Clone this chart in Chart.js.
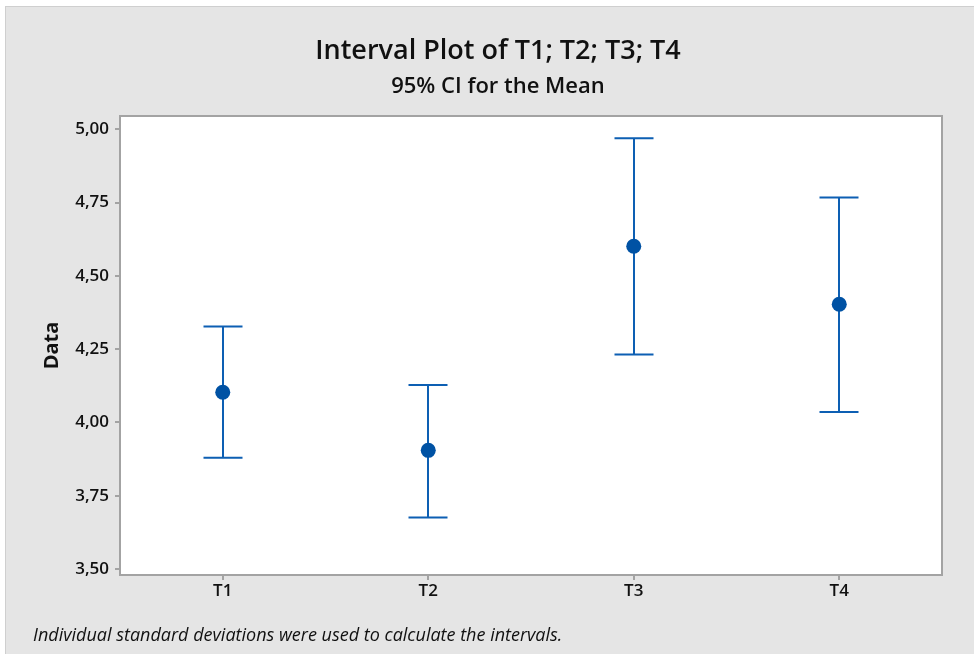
<!DOCTYPE html>
<html>
<head>
<meta charset="utf-8">
<title>Interval Plot of T1; T2; T3; T4</title>
<script src="https://cdn.jsdelivr.net/npm/chart.js@4/dist/chart.umd.min.js"></script>
<style>
  html, body { margin: 0; padding: 0; background: #ffffff; }
  #wrap { position: relative; width: 974px; height: 654px; overflow: hidden; }
  .txt {
    position: absolute; font-family: "Open Sans", sans-serif;
    color: #111111; white-space: nowrap;
  }
  #title { left: 0; width: 996px; top: 33px; text-align: center; font-size: 27px; line-height: 32px; font-weight: 600; }
  #subtitle { left: 0; width: 996px; top: 71px; text-align: center; font-size: 22px; line-height: 26px; font-weight: 600; }
  #note { left: 33px; top: 621px; font-style: italic; font-size: 18px; line-height: 26px; }
</style>
</head>
<body>
<div id="wrap">
  <canvas id="plot" width="974" height="654"></canvas>
  <div class="txt" id="title">Interval Plot of T1; T2; T3; T4</div>
  <div class="txt" id="subtitle">95% CI for the Mean</div>
  <div class="txt" id="note">Individual standard deviations were used to calculate the intervals.</div>
</div>
<script>
// ========================================
// Data
// ========================================
const categories = ['T1', 'T2', 'T3', 'T4'];
const means = [4.103, 3.905, 4.601, 4.403];
const lower = [3.880, 3.676, 4.232, 4.036];
const upper = [4.327, 4.128, 4.969, 4.767];
const yTicks = [3.50, 3.75, 4.00, 4.25, 4.50, 4.75, 5.00];

// ========================================
// Styles
// ========================================
const colors = {
  frame: '#e5e5e5',
  frameBorder: '#cfcfcf',
  plotBorder: '#a3a3a3',
  line: '#0d5fb3',
  marker: '#0052a4',
  text: '#111111'
};
const FONT = '"Open Sans", sans-serif';

// Outer grey panel + white plot area
const backgroundPlugin = {
  id: 'background',
  beforeDraw(chart) {
    const ctx = chart.ctx;
    const a = chart.chartArea;
    ctx.save();
    ctx.fillStyle = '#ffffff';
    ctx.fillRect(0, 0, chart.width, chart.height);
    ctx.fillStyle = colors.frame;
    ctx.fillRect(5, 6, chart.width, chart.height);
    ctx.strokeStyle = colors.frameBorder;
    ctx.lineWidth = 1;
    ctx.strokeRect(5.5, 6.5, chart.width + 10, chart.height + 10);
    ctx.fillStyle = '#ffffff';
    ctx.fillRect(a.left, a.top, a.right - a.left, a.bottom - a.top);
    ctx.restore();
  },
  afterDraw(chart) {
    const ctx = chart.ctx;
    const a = chart.chartArea;
    ctx.save();
    ctx.strokeStyle = colors.plotBorder;
    ctx.lineWidth = 2;
    ctx.strokeRect(a.left, a.top, a.right - a.left, a.bottom - a.top);
    ctx.restore();
  }
};

// Confidence interval whiskers with caps
const intervalPlugin = {
  id: 'intervals',
  beforeDatasetsDraw(chart) {
    const ctx = chart.ctx;
    const xs = chart.scales.x;
    const ys = chart.scales.y;
    const capHalf = 19.5;
    ctx.save();
    ctx.strokeStyle = colors.line;
    ctx.lineWidth = 2;
    categories.forEach((c, i) => {
      const x = Math.round(xs.getPixelForValue(i));
      const yHi = ys.getPixelForValue(upper[i]);
      const yLo = ys.getPixelForValue(lower[i]);
      ctx.beginPath();
      ctx.moveTo(x, yHi);
      ctx.lineTo(x, yLo);
      ctx.moveTo(x - capHalf, yHi);
      ctx.lineTo(x + capHalf, yHi);
      ctx.moveTo(x - capHalf, yLo);
      ctx.lineTo(x + capHalf, yLo);
      ctx.stroke();
    });
    ctx.restore();
  }
};

new Chart(document.getElementById('plot'), {
  type: 'scatter',
  data: {
    datasets: [{
      label: 'Mean',
      data: means.map((m, i) => ({ x: i, y: m })),
      backgroundColor: colors.marker,
      borderColor: colors.marker,
      pointRadius: 7.5,
      pointHoverRadius: 7.5,
      borderWidth: 0
    }]
  },
  options: {
    responsive: false,
    animation: false,
    layout: { padding: { top: 116, left: 0, right: 32, bottom: 49 } },
    plugins: {
      legend: { display: false },
      tooltip: { enabled: false },
      title: { display: false }
    },
    scales: {
      x: {
        type: 'linear',
        min: -0.5,
        max: 3.5,
        afterFit(scale) { scale.height = 30; },
        afterBuildTicks(scale) { scale.ticks = categories.map((c, i) => ({ value: i })); },
        grid: { drawOnChartArea: false, drawTicks: true, tickLength: 5, color: colors.plotBorder, lineWidth: 2 },
        border: { display: false },
        ticks: {
          padding: 1,
          color: colors.text,
          font: { family: FONT, size: 17, weight: '600' },
          callback: (v) => categories[v]
        }
      },
      y: {
        min: 3.48,
        max: 5.045,
        afterFit(scale) { scale.width = 120; },
        afterBuildTicks(scale) { scale.ticks = yTicks.map(v => ({ value: v })); },
        grid: { drawOnChartArea: false, drawTicks: true, tickLength: 5, color: colors.plotBorder, lineWidth: 2 },
        border: { display: false },
        ticks: {
          padding: 6,
          color: colors.text,
          font: { family: FONT, size: 17, weight: '600' },
          callback: (v) => v.toFixed(2).replace('.', ',')
        },
        title: {
          display: true,
          text: 'Data',
          color: colors.text,
          font: { family: FONT, size: 20, weight: '700' },
          padding: { top: 40, bottom: 0 }
        }
      }
    }
  },
  plugins: [backgroundPlugin, intervalPlugin]
});
</script>
</body>
</html>
